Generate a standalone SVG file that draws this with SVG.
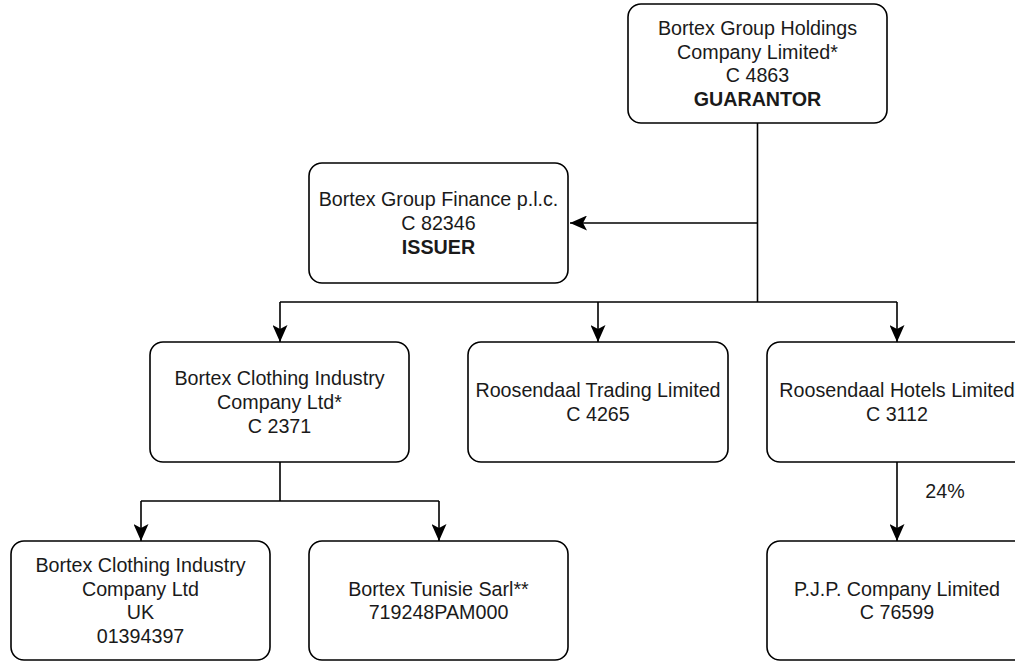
<svg xmlns="http://www.w3.org/2000/svg" width="1015" height="661" viewBox="0 0 1015 661">
<defs>
<style>
.box{fill:#fff;stroke:#000;stroke-width:1.6}
.t{font-family:"Liberation Sans",Arial,sans-serif;font-size:19.7px;fill:#1a1a1a;text-anchor:middle}
.b{font-weight:bold}
.c{fill:none;stroke:#000;stroke-width:1.6}
</style>
<marker id="ah" viewBox="0 0 17 15" refX="17" refY="7.5" markerWidth="17" markerHeight="15" markerUnits="userSpaceOnUse" orient="auto">
<path d="M0,0 L17,7.5 L0,15 L4,7.5 Z" fill="#000"/>
</marker>
</defs>
<rect width="1015" height="661" fill="#fff"/>
<g id="connectors">
<path class="c" d="M757.5,123 V302"/>
<path class="c" d="M757.5,223 H570" marker-end="url(#ah)"/>
<path class="c" d="M280,302 H897"/>
<path class="c" d="M280,302 V342" marker-end="url(#ah)"/>
<path class="c" d="M598,302 V342" marker-end="url(#ah)"/>
<path class="c" d="M897,302 V342" marker-end="url(#ah)"/>
<path class="c" d="M280,462 V501"/>
<path class="c" d="M141,501 H439"/>
<path class="c" d="M141,501 V541" marker-end="url(#ah)"/>
<path class="c" d="M439,501 V541" marker-end="url(#ah)"/>
<path class="c" d="M897,462 V541" marker-end="url(#ah)"/>
<text class="t" x="945" y="498">24%</text>
</g>
<g id="guarantor">
<rect class="box" x="628" y="4" width="259" height="119" rx="13"/>
<text class="t" x="757.5" y="35">Bortex Group Holdings</text>
<text class="t" x="757.5" y="58.7">Company Limited*</text>
<text class="t" x="757.5" y="82.4">C 4863</text>
<text class="t b" x="757.5" y="106.1">GUARANTOR</text>
</g>
<g id="issuer">
<rect class="box" x="309" y="163" width="259" height="120" rx="13"/>
<text class="t" x="438.5" y="206.3">Bortex Group Finance p.l.c.</text>
<text class="t" x="438.5" y="230">C 82346</text>
<text class="t b" x="438.5" y="253.7">ISSUER</text>
</g>
<g id="bortex-clothing">
<rect class="box" x="150" y="342" width="259" height="120" rx="13"/>
<text class="t" x="279.5" y="385.3">Bortex Clothing Industry</text>
<text class="t" x="279.5" y="409">Company Ltd*</text>
<text class="t" x="279.5" y="432.7">C 2371</text>
</g>
<g id="roosendaal-trading">
<rect class="box" x="468" y="342" width="260" height="120" rx="13"/>
<text class="t" x="598" y="397.2">Roosendaal Trading Limited</text>
<text class="t" x="598" y="420.9">C 4265</text>
</g>
<g id="roosendaal-hotels">
<rect class="box" x="767" y="342" width="260" height="120" rx="13"/>
<text class="t" x="897" y="397.2">Roosendaal Hotels Limited</text>
<text class="t" x="897" y="420.9">C 3112</text>
</g>
<g id="bortex-uk">
<rect class="box" x="11" y="541" width="259" height="119" rx="13"/>
<text class="t" x="140.5" y="572">Bortex Clothing Industry</text>
<text class="t" x="140.5" y="595.6">Company Ltd</text>
<text class="t" x="140.5" y="619.3">UK</text>
<text class="t" x="140.5" y="643">01394397</text>
</g>
<g id="bortex-tunisie">
<rect class="box" x="309" y="541" width="259" height="119" rx="13"/>
<text class="t" x="438.5" y="595.6">Bortex Tunisie Sarl**</text>
<text class="t" x="438.5" y="619.3">719248PAM000</text>
</g>
<g id="pjp">
<rect class="box" x="767" y="541" width="260" height="119" rx="13"/>
<text class="t" x="897" y="595.6">P.J.P. Company Limited</text>
<text class="t" x="897" y="619.3">C 76599</text>
</g>
</svg>
